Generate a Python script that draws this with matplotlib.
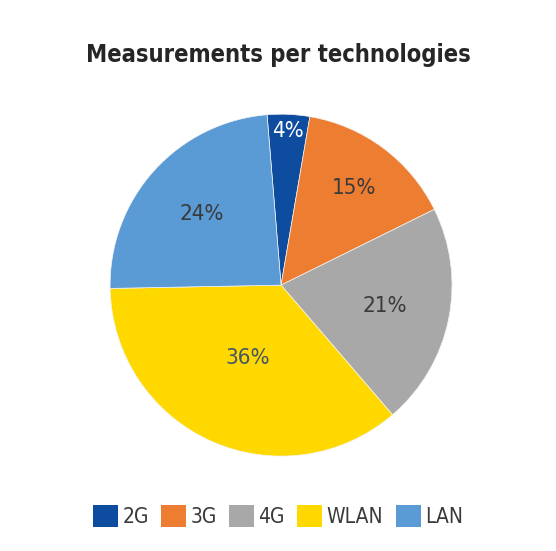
import numpy as np
import matplotlib
matplotlib.use("Agg")
import matplotlib.pyplot as plt
from matplotlib.patches import Patch

# datos
tecnologias = ['2G', '3G', '4G', 'WLAN', 'LAN']
porcentajes = [4, 15, 21, 36, 24]
colores = ['#0D4C9F', '#ED7D31', '#A8A8A8', '#FFD800', '#5B9BD5']
color_texto = ['white', '#3A3A3A', '#3A3A3A', '#44546A', '#3A3A3A']
dist_etiqueta = [0.9, 0.71, 0.62, 0.47, 0.625]

plt.rcParams['font.family'] = ['DejaVu Sans']
plt.rcParams['font.stretch'] = 'condensed'

fig = plt.figure(figsize=(5.56, 5.51), dpi=100)
ax = fig.add_axes([0.198, 0.172, 0.615, 0.621])

wedges, _ = ax.pie(porcentajes, colors=colores, startangle=94.7, counterclock=False,
                   wedgeprops=dict(edgecolor='#f4f4f4', linewidth=0.5))
ax.set_xlim(-1, 1)
ax.set_ylim(-1, 1)
ax.set_aspect('equal')

# Etiquetas de porcentaje
for w, p, r, c in zip(wedges, porcentajes, dist_etiqueta, color_texto):
    ang = np.deg2rad((w.theta1 + w.theta2) / 2)
    ax.text(r * np.cos(ang), r * np.sin(ang), str(p) + '%', ha='center', va='center',
            fontsize=16, color=c)

fig.text(0.5, 0.9, 'Measurements per technologies', ha='center', va='center',
         fontsize=17, fontweight='bold', color='#262626')

handles = [Patch(facecolor=c) for c in colores]
fig.legend(handles, tecnologias, loc='center', bbox_to_anchor=(0.5, 0.0635), ncol=5,
           frameon=False, fontsize=15, handlelength=1.2, handleheight=1.2,
           handletextpad=0.2, columnspacing=0.6, labelcolor='#3A3A3A')

fig.savefig('out.png', dpi=100, facecolor='white')
